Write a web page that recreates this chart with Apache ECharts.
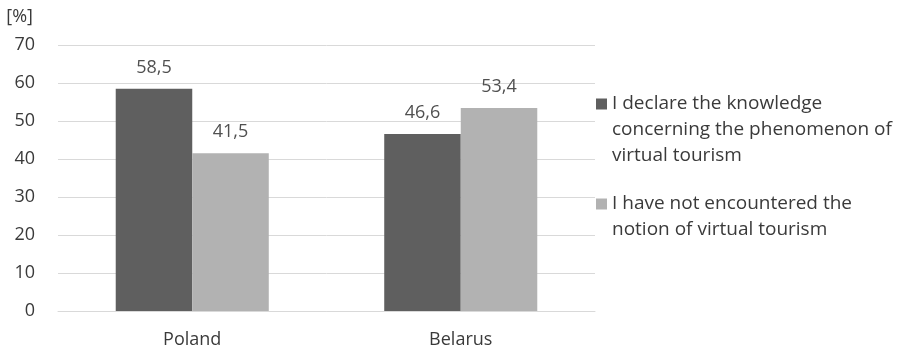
<!DOCTYPE html>
<html>
<head>
<meta charset="utf-8">
<script src="https://cdn.jsdelivr.net/npm/echarts@6/dist/echarts.min.js"></script>
<style>
  html, body { margin: 0; padding: 0; background: #ffffff; }
  #chart { width: 908px; height: 352px; }
</style>
</head>
<body>
<div id="chart"></div>
<script>
// Survey answers by country, in percent
const countries = ['Poland', 'Belarus'];
const knowsValues = [58.5, 46.6];
const notEncounteredValues = [41.5, 53.4];
const seriesNames = [
  'I declare the knowledge concerning the phenomenon of virtual tourism',
  'I have not encountered the notion of virtual tourism'
];
// Legend text, wrapped line by line
const legendLines = [
  ['I declare the knowledge', 'concerning the phenomenon of', 'virtual tourism'],
  ['I have not encountered the', 'notion of virtual tourism']
];
const yTicks = { min: 0, max: 70, interval: 10 };
const unitLabel = '[%]';

const FONT = 'Open Sans';
const TEXT = '#3a3a3a';
const DARK = '#5f5f5f';
const LIGHT = '#b2b2b2';
const GRID = '#d9d9d9';
const LEGEND_LH = 26;

const fmtComma = v => String(v.toFixed(1)).replace('.', ',');

const chart = echarts.init(document.getElementById('chart'), null, { renderer: 'canvas' });

function barSeries(i, values, color) {
  return {
    name: seriesNames[i],
    type: 'bar',
    data: values,
    barGap: '0%',
    barCategoryGap: '43%',
    itemStyle: { color: color },
    label: {
      show: true,
      position: 'top',
      distance: 12,
      formatter: p => fmtComma(p.value),
      fontFamily: FONT,
      fontSize: 18,
      color: '#505050'
    }
  };
}

// The legend swatch is centred on its text block, so blank lines above
// the wrapped text keep the swatch level with the first line.
function legendText(name) {
  const lines = legendLines[seriesNames.indexOf(name)];
  return '\n'.repeat(lines.length - 1) + lines.join('\n');
}

chart.setOption({
  animation: false,
  textStyle: { fontFamily: FONT },
  grid: { left: 58, right: 313, top: 45, bottom: 41 },
  legend: {
    orient: 'vertical',
    left: 591,
    top: 34,
    itemWidth: 11,
    itemHeight: 11,
    itemGap: -4,
    icon: 'rect',
    selectedMode: false,
    data: seriesNames,
    formatter: legendText,
    textStyle: {
      fontFamily: FONT,
      fontSize: 19,
      lineHeight: LEGEND_LH,
      color: TEXT
    }
  },
  xAxis: {
    type: 'category',
    data: countries,
    axisLine: { show: true, lineStyle: { color: GRID, width: 1 } },
    axisTick: { show: false },
    axisLabel: {
      margin: 20,
      fontFamily: FONT,
      fontSize: 18,
      color: TEXT
    }
  },
  yAxis: {
    type: 'value',
    min: yTicks.min,
    max: yTicks.max,
    interval: yTicks.interval,
    name: unitLabel,
    nameLocation: 'end',
    nameGap: 28,
    nameTextStyle: {
      fontFamily: FONT,
      fontSize: 18,
      color: TEXT,
      align: 'right',
      verticalAlign: 'middle',
      padding: [0, 25, 0, 0]
    },
    axisLine: { show: false },
    axisTick: { show: false },
    splitLine: { lineStyle: { color: GRID, width: 1 } },
    axisLabel: {
      margin: 23,
      fontFamily: FONT,
      fontSize: 18,
      color: TEXT
    }
  },
  series: [
    barSeries(0, knowsValues, DARK),
    barSeries(1, notEncounteredValues, LIGHT)
  ]
});
</script>
</body>
</html>
